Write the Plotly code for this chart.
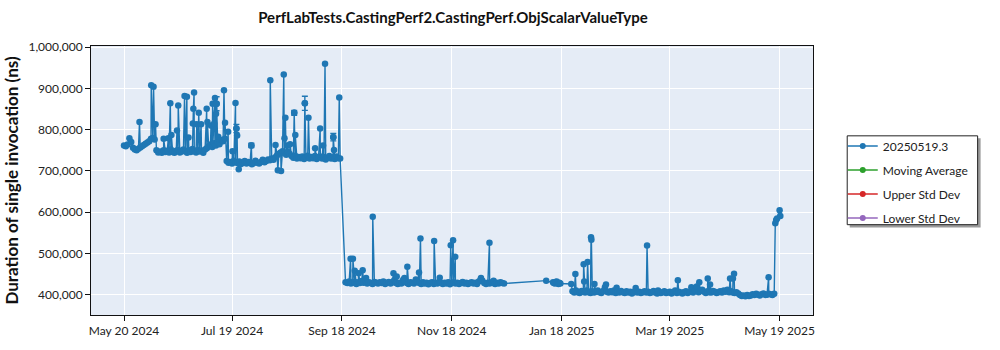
import numpy as np
import pandas as pd
import plotly.graph_objects as go

# ---------------- data (values in thousands of ns) ----------------
START_DATE = "2024-05-20"          # day 0 of the offsets below

# daily baseline runs: first day offset + consecutive daily values
seg_a_first_day = 0
seg_a_k = [762, 760, 764, 779, 770, 756, 752, 750, 754, 757,
           760, 763, 766, 769, 772, 778, 780, 776, 750, 745,
           747, 744, 750, 746, 749, 745, 752, 746, 744, 749,
           751, 745, 747, 752, 748, 744, 750, 746, 753, 748,
           745, 751, 747, 749, 744, 752, 755, 760, 764, 758,
           767, 762, 770, 765, 775, 772, 778, 724, 720, 722,
           718, 725, 721, 719, 723, 717, 720, 724, 718, 722,
           721, 716, 719, 725, 720, 718, 722, 727, 721, 724,
           728, 726, 730, 727, 733, 738, 742, 745, 748, 744,
           739, 746, 741, 736, 732, 737, 730, 734, 731, 735,
           729, 733, 737, 730, 734, 731, 736, 729, 733, 735,
           730, 734, 728, 732, 736, 730, 733, 729, 735, 731,
           730]

seg_b_first_day = 123
seg_b_k = [430, 428, 432, 427, 429, 431, 426, 430, 428, 433,
           429, 435, 427, 430, 428, 426, 431, 429, 427, 430,
           428, 432, 426, 429, 431, 427, 430, 435, 428, 426,
           429, 427, 436, 432, 428, 426, 430, 429, 427, 437,
           431, 428, 426, 430, 427, 429, 425, 428, 430, 426,
           429, 427, 431, 428, 426, 429, 427, 430, 425, 428,
           430, 427, 429, 426, 428, 431, 427, 429, 426, 428,
           430, 427, 429, 426, 432, 437, 434, 428, 426, 429,
           427, 430, 428, 426, 429, 427, 430, 428, 427]

seg_c_first_day = 249
seg_c_k = [408, 405, 410, 406, 404, 409, 407, 405, 410, 406,
           404, 408, 405, 407, 410, 406, 404, 409, 418, 407,
           405, 408, 406, 410, 404, 407, 405, 409, 406, 404,
           408, 405, 407, 403, 406, 410, 405, 407, 404, 406,
           408, 405, 407, 404, 406, 409, 405, 403, 407, 404,
           406, 408, 404, 405, 407, 403, 406, 410, 404, 407,
           405, 403, 406, 408, 404, 407, 418, 405, 410, 420,
           406, 409, 412, 407, 404, 408, 406, 405, 409, 407,
           404, 406, 408, 405, 410, 407, 412, 406, 408, 405,
           404, 406, 403, 399, 397, 398, 396, 399, 397, 398,
           401, 399, 402, 400, 398, 401, 403, 399, 400, 402,
           401, 399, 402]

# individual runs between the daily points (day offset, value)
extra_days = [8.6, 15.1, 16.4, 17.5, 22.0, 24.6, 25.7, 26.3, 29.4, 30.1,
              33.6, 34.9, 35.8, 38.2, 38.5, 38.9, 40.4, 41.5, 42.8, 45.9,
              46.3, 48.3, 49.2, 50.1, 50.5, 51.1, 51.4, 52.3, 55.5, 56.1,
              57.8, 60.2, 61.9, 62.4, 62.8, 63.7, 70.7, 81.2, 84.1, 85.4,
              87.2, 88.7, 89.1, 89.6, 90.9, 92.2, 94.5, 95.1, 100.4, 102.4,
              106.1, 108.9, 110.5, 111.6, 116.2, 116.6, 119.5,
              125.8, 127.1, 128.1, 130.3, 132.5, 134.4, 138.1, 149.6, 151.4, 155.7,
              157.3, 163.8, 164.6, 172.2, 175.3, 181.4, 182.7, 183.9, 198.2, 202.9,
              205.2,
              234.4, 238.2, 238.6, 239.3, 239.7, 240.2, 240.6, 241.2, 241.7, 242.3,
              248.3, 250.6, 255.2, 255.5, 257.4, 259.3, 259.5, 261.2, 267.6, 273.5,
              284.1, 290.4, 296.5, 307.5, 310.6, 319.4, 324.1, 325.4, 336.5, 338.1,
              338.7, 357.9, 361.6, 362.1, 362.6, 364.0, 364.4]
extra_k = [819, 908, 904, 813, 778, 779, 864, 787, 798, 859,
           882, 880, 781, 815, 851, 890, 813, 841, 813, 851,
           819, 810, 863, 815, 877, 839, 863, 783, 896, 817,
           795, 748, 865, 803, 786, 704, 762, 920, 763, 702,
           700, 934, 779, 829, 762, 765, 841, 787, 864, 829,
           755, 803, 762, 960, 782, 751, 878,
           487, 487, 458, 452, 459.5, 440.5, 589, 452, 444, 440.5,
           468, 454, 536, 530, 441, 520, 532, 492, 440.5, 526,
           434,
           434, 430, 428, 427, 431, 432, 429, 426, 429, 427,
           426, 450, 474, 432, 479, 539.5, 533, 426, 424.5, 417,
           416, 519, 410, 435, 405, 430, 439.5, 424.5, 439.5, 439.5,
           451, 442, 573, 581, 585, 605, 591]

# runs drawn with a standard-deviation whisker
err_days = [51.4, 62.4, 70.7, 94.5, 100.4, 116.2]
err_k = [863, 803, 762, 841, 864, 782]
err_size_k = [17, 10, 5, 6, 17, 9]

x_tick_dates = ["2024-05-20", "2024-07-19", "2024-09-18", "2024-11-18",
                "2025-01-18", "2025-03-19", "2025-05-19"]
x_tick_text = ["May 20 2024", "Jul 19 2024", "Sep 18 2024", "Nov 18 2024",
               "Jan 18 2025", "Mar 19 2025", "May 19 2025"]
y_tick_vals = [400000, 500000, 600000, 700000, 800000, 900000, 1000000]

legend_names = ["20250519.3", "Moving Average", "Upper Std Dev", "Lower Std Dev"]
legend_colors = ["#1f77b4", "#2ca02c", "#d62728", "#9467bd"]
MAIN = legend_colors[0]

# ---------------- assemble ----------------
base_days = np.concatenate([
    seg_a_first_day + np.arange(len(seg_a_k)),
    seg_b_first_day + np.arange(len(seg_b_k)),
    seg_c_first_day + np.arange(len(seg_c_k)),
]).astype(float)
base_vals = np.array(seg_a_k + seg_b_k + seg_c_k, dtype=float)

df = pd.DataFrame({
    "day": np.concatenate([base_days, np.array(extra_days)]),
    "k": np.concatenate([base_vals, np.array(extra_k, dtype=float)]),
}).sort_values("day", kind="stable")
t0 = pd.Timestamp(START_DATE)
df["date"] = t0 + pd.to_timedelta(df["day"], unit="D")
df["ns"] = df["k"] * 1000

err_dates = t0 + pd.to_timedelta(np.array(err_days), unit="D")

fig = go.Figure()
fig.add_trace(go.Scatter(
    x=df["date"], y=df["ns"], mode="lines+markers", name=legend_names[0],
    line=dict(color=MAIN, width=1.4), marker=dict(color=MAIN, size=6.5),
    showlegend=False,
))
fig.add_trace(go.Scatter(
    x=err_dates, y=np.array(err_k) * 1000, mode="markers", showlegend=False,
    marker=dict(color=MAIN, size=6.5),
    error_y=dict(type="data", array=np.array(err_size_k) * 1000, visible=True,
                 color=MAIN, thickness=1.4, width=3),
))
# legend entries (the three statistic series have no points in this chart)
for i, (nm, col) in enumerate(zip(legend_names, legend_colors)):
    fig.add_trace(go.Scatter(
        x=[None], y=[None], mode="lines+markers", name=nm,
        line=dict(color=col, width=1.5), marker=dict(color=col, size=6),
        legendgroup=f"g{i}",
    ))

# plot area geometry (pixels)
L, R, T, B = 85, 813, 46, 320
W, H = R - L, B - T


def px_x(p):
    return (p - L) / W


def px_y(p):
    return (B - p) / H


FONT = "Segoe UI, Lato, sans-serif"
fig.update_layout(
    width=1000, height=350,
    margin=dict(l=L, r=1000 - R, t=T, b=350 - B, pad=0),
    paper_bgcolor="white", plot_bgcolor="#e5ecf6",
    font=dict(family=FONT, size=12, color="#222"),
    title=dict(text="<b>PerfLabTests.CastingPerf2.CastingPerf.ObjScalarValueType</b>",
               x=px_x(450), xref="paper", xanchor="center",
               y=1 - 18 / 350, yref="container", yanchor="middle",
               font=dict(size=15, color="#111", family=FONT)),
    showlegend=True,
    legend=dict(x=px_x(843), y=px_y(133), xanchor="left", yanchor="top",
                bgcolor="rgba(0,0,0,0)", borderwidth=0,
                font=dict(size=12, color="#222", family=FONT),
                tracegroupgap=5, traceorder="grouped"),
    shapes=[
        dict(type="rect", xref="paper", yref="paper", layer="below",
             x0=px_x(850), x1=px_x(982), y0=px_y(231), y1=px_y(140),
             fillcolor="#9a9a9a", line=dict(width=0)),
        dict(type="rect", xref="paper", yref="paper", layer="below",
             x0=px_x(847.5), x1=px_x(979), y0=px_y(228), y1=px_y(137.5),
             fillcolor="white", line=dict(color="#222", width=1)),
    ],
)
fig.update_xaxes(
    type="date",
    range=["2024-05-01 16:00", "2025-06-06 13:00"],
    tickvals=x_tick_dates, ticktext=x_tick_text,
    showgrid=True, gridcolor="white", gridwidth=1,
    showline=True, linecolor="#111", linewidth=1, mirror=True,
    ticks="outside", ticklen=5, tickcolor="#111",
    tickfont=dict(size=12, color="#222"), zeroline=False,
)
fig.update_yaxes(
    range=[350700, 1003000],
    tickvals=y_tick_vals, tickformat=",d",
    showgrid=True, gridcolor="white", gridwidth=1,
    showline=True, linecolor="#111", linewidth=1, mirror=True,
    ticks="outside", ticklen=5, tickcolor="#111",
    tickfont=dict(size=12, color="#222"), zeroline=False,
    title=dict(text="<b>Duration of single invocation (ns)</b>",
               font=dict(size=17, color="#111", family=FONT), standoff=5),
)

fig.write_html("out.html")
